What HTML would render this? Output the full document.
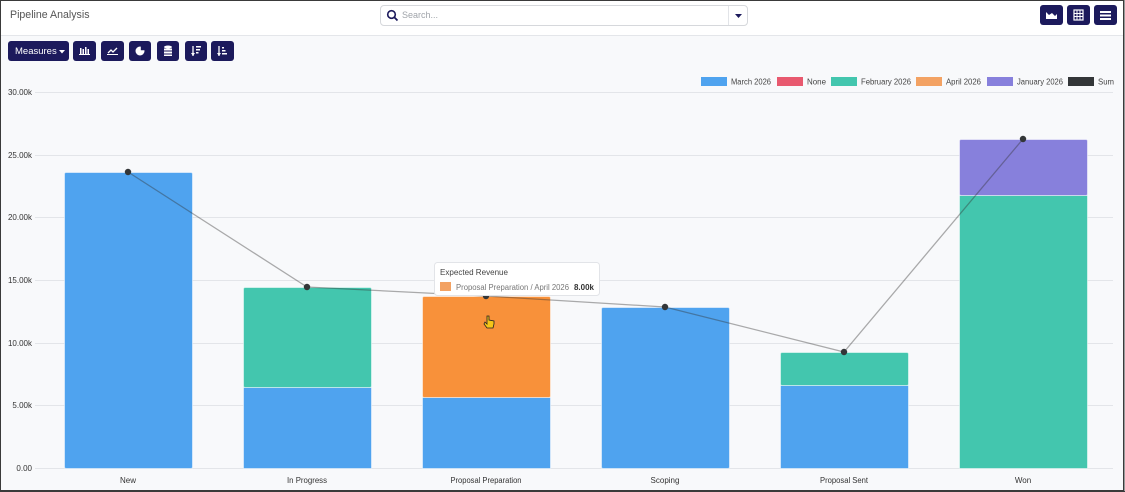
<!DOCTYPE html>
<html><head><meta charset="utf-8">
<style>
html,body{margin:0;padding:0;}
body{width:1125px;height:492px;overflow:hidden;background:#f8f9fb;font-family:"Liberation Sans",Arial,sans-serif;position:relative;}
.header{position:absolute;left:1px;top:1px;width:1122px;height:34px;background:#fff;border-bottom:1px solid #e4e6ea;}
.title{position:absolute;left:9px;top:8px;font-size:10.6px;color:#555;}
.search{position:absolute;left:380px;top:5px;width:366px;height:19px;border:1px solid #d6d8dc;border-radius:4px;background:#fff;}
.search .ph{position:absolute;left:21px;top:4px;font-size:9px;color:#a0a4aa;}
.search .div{position:absolute;left:347px;top:0;width:1px;height:19px;background:#e2e4e8;}
.btn{position:absolute;background:#1c1a5c;border-radius:3px;height:20px;}
.meas{color:#fff;font-size:9.5px;}
</style></head><body>
<div class="header">
  <div class="title">Pipeline Analysis</div>
</div>
<div class="search">
  <svg width="14" height="14" style="position:absolute;left:5px;top:3px" viewBox="0 0 14 14"><circle cx="5.5" cy="5.5" r="3.8" fill="none" stroke="#1c1a5c" stroke-width="1.6"/><line x1="8.3" y1="8.3" x2="11.5" y2="11.5" stroke="#1c1a5c" stroke-width="1.8"/></svg>
  <div class="ph">Search...</div>
  <div class="div"></div>
  <svg width="8" height="5" style="position:absolute;left:354px;top:8px"><polygon points="0,0 7,0 3.5,4" fill="#1c1a5c"/></svg>
</div>
<!-- right buttons -->
<div class="btn" style="left:1040px;top:5px;width:23px;">
  <svg width="23" height="20"><polygon points="6,14 6,7 9,10 12,8 15,11 17,9 17,14" fill="#fff"/></svg></div>
<div class="btn" style="left:1067px;top:5px;width:23px;">
  <svg width="23" height="20"><rect x="7" y="5" width="9" height="10" fill="none" stroke="#fff" stroke-width="1.2"/><line x1="7" y1="8.5" x2="16" y2="8.5" stroke="#fff"/><line x1="7" y1="11.5" x2="16" y2="11.5" stroke="#fff"/><line x1="10" y1="5" x2="10" y2="15" stroke="#fff"/><line x1="13" y1="5" x2="13" y2="15" stroke="#fff"/></svg></div>
<div class="btn" style="left:1094px;top:5px;width:23px;">
  <svg width="23" height="20"><rect x="6" y="6" width="11" height="2" fill="#fff"/><rect x="6" y="9.5" width="11" height="2" fill="#fff"/><rect x="6" y="13" width="11" height="2" fill="#fff"/></svg></div>
<!-- toolbar -->
<div class="btn meas" style="left:8px;top:41px;width:61px;"><span style="position:absolute;left:7px;top:5px;">Measures</span>
  <svg width="8" height="5" style="position:absolute;left:51px;top:9px"><polygon points="0,0 6,0 3,3.5" fill="#fff"/></svg></div>
<div class="btn" style="left:73px;top:41px;width:23px;"><svg width="23" height="20"><rect x="7" y="7" width="1.5" height="6" fill="#fff"/><rect x="9.5" y="8" width="1.5" height="5" fill="#fff"/><rect x="12" y="6" width="1.5" height="7" fill="#fff"/><rect x="14.5" y="8" width="1.5" height="5" fill="#fff"/><rect x="6" y="13" width="11" height="1" fill="#fff"/></svg></div>
<div class="btn" style="left:101px;top:41px;width:23px;"><svg width="23" height="20"><polyline points="7,12 10,9 12,11 16,7" fill="none" stroke="#fff" stroke-width="1.3"/><rect x="6" y="13" width="11" height="1" fill="#fff"/></svg></div>
<div class="btn" style="left:129px;top:41px;width:22px;"><svg width="22" height="20"><circle cx="11" cy="10" r="4.5" fill="#fff"/><path d="M11,10 L11,5.5 A4.5,4.5 0 0 1 15.5,10 Z" fill="#1c1a5c" transform="translate(0.8,-0.8)"/></svg></div>
<div class="btn" style="left:157px;top:41px;width:22px;"><svg width="22" height="20"><ellipse cx="11" cy="6" rx="4" ry="1.5" fill="#fff"/><rect x="7" y="7.5" width="8" height="2" fill="#fff"/><rect x="7" y="10.5" width="8" height="2" fill="#fff"/><rect x="7" y="13.5" width="8" height="1.5" fill="#fff"/></svg></div>
<div class="btn" style="left:185px;top:41px;width:22px;"><svg width="22" height="20"><line x1="8" y1="5" x2="8" y2="15" stroke="#fff" stroke-width="1.3"/><polygon points="6,12 10,12 8,15" fill="#fff"/><rect x="11" y="5" width="5" height="1.5" fill="#fff"/><rect x="11" y="8" width="4" height="1.5" fill="#fff"/><rect x="11" y="11" width="2.5" height="1.5" fill="#fff"/></svg></div>
<div class="btn" style="left:211px;top:41px;width:23px;"><svg width="23" height="20"><line x1="8" y1="5" x2="8" y2="15" stroke="#fff" stroke-width="1.3"/><polygon points="6,12 10,12 8,15" fill="#fff"/><rect x="11" y="6" width="2" height="1.5" fill="#fff"/><rect x="11" y="9" width="3.5" height="1.5" fill="#fff"/><rect x="11" y="12" width="5" height="1.5" fill="#fff"/></svg></div>

<svg width="1125" height="492" style="position:absolute;left:0;top:0" font-family="Liberation Sans, Arial, sans-serif">
  <!-- legend -->
  <g font-size="8" fill="#444">
    <rect x="701" y="77" width="26" height="9" fill="#4fa3ef"/><text x="731" y="84.5" textLength="40" lengthAdjust="spacingAndGlyphs">March 2026</text>
    <rect x="777" y="77" width="26" height="9" fill="#e8596f"/><text x="807" y="84.5" textLength="19" lengthAdjust="spacingAndGlyphs">None</text>
    <rect x="831" y="77" width="26" height="9" fill="#43c6ae"/><text x="861" y="84.5" textLength="50" lengthAdjust="spacingAndGlyphs">February 2026</text>
    <rect x="916" y="77" width="26" height="9" fill="#f3a263"/><text x="946" y="84.5" textLength="35" lengthAdjust="spacingAndGlyphs">April 2026</text>
    <rect x="987" y="77" width="26" height="9" fill="#8780dc"/><text x="1017" y="84.5" textLength="46" lengthAdjust="spacingAndGlyphs">January 2026</text>
    <rect x="1068" y="77" width="26" height="9" fill="#333638"/><text x="1098" y="84.5" textLength="16" lengthAdjust="spacingAndGlyphs">Sum</text>
  </g>
  <!-- gridlines -->
  <g stroke="#e3e5e9" stroke-width="1">
    <line x1="35" y1="92.5" x2="1113" y2="92.5"/>
    <line x1="35" y1="155.5" x2="1113" y2="155.5"/>
    <line x1="35" y1="217.5" x2="1113" y2="217.5"/>
    <line x1="35" y1="280.5" x2="1113" y2="280.5"/>
    <line x1="35" y1="343.5" x2="1113" y2="343.5"/>
    <line x1="35" y1="405.5" x2="1113" y2="405.5"/>
    <line x1="35" y1="468.5" x2="1113" y2="468.5"/>
  </g>
  <g font-size="8" fill="#333" text-anchor="end">
    <text x="32" y="95">30.00k</text>
    <text x="32" y="158">25.00k</text>
    <text x="32" y="220">20.00k</text>
    <text x="32" y="283">15.00k</text>
    <text x="32" y="346">10.00k</text>
    <text x="32" y="408">5.00k</text>
    <text x="32" y="471">0.00</text>
  </g>
  <!-- bars -->
  <g stroke="#fff" stroke-opacity="0.5" stroke-width="1">
    <rect x="64.5" y="172.5" width="128" height="296" fill="#4fa3ef" rx="1.5"/>
    <rect x="243.5" y="387.5" width="128" height="81" fill="#4fa3ef"/>
    <rect x="243.5" y="287.5" width="128" height="100" fill="#43c6ae" rx="1.5"/>
    <rect x="422.5" y="397.5" width="128" height="71" fill="#4fa3ef"/>
    <rect x="422.5" y="296.5" width="128" height="101" fill="#f8913a" rx="1.5"/>
    <rect x="601.5" y="307.5" width="128" height="161" fill="#4fa3ef" rx="1.5"/>
    <rect x="780.5" y="385.5" width="128" height="83" fill="#4fa3ef"/>
    <rect x="780.5" y="352.5" width="128" height="33" fill="#43c6ae" rx="1.5"/>
    <rect x="959.5" y="195.5" width="128" height="273" fill="#43c6ae"/>
    <rect x="959.5" y="139.5" width="128" height="56" fill="#8780dc" rx="1.5"/>
  </g>
  <!-- sum line -->
  <polyline points="128,172 307,287 486,296 665,307 844,352 1023,139" fill="none" stroke="#333" stroke-opacity="0.4" stroke-width="1.3"/>
  <g fill="#333638">
    <circle cx="128" cy="172" r="3.2"/>
    <circle cx="307" cy="287" r="3.2"/>
    <circle cx="486" cy="296" r="3.2"/>
    <circle cx="665" cy="307" r="3.2"/>
    <circle cx="844" cy="352" r="3.2"/>
    <circle cx="1023" cy="139" r="3.2"/>
  </g>
  <!-- x labels -->
  <g font-size="8" fill="#333" text-anchor="middle">
    <text x="128" y="483">New</text>
    <text x="307" y="483" textLength="40" lengthAdjust="spacingAndGlyphs">In Progress</text>
    <text x="486" y="483" textLength="71" lengthAdjust="spacingAndGlyphs">Proposal Preparation</text>
    <text x="665" y="483">Scoping</text>
    <text x="844" y="483" textLength="48" lengthAdjust="spacingAndGlyphs">Proposal Sent</text>
    <text x="1023" y="483">Won</text>
  </g>
  <!-- tooltip -->
  <rect x="434.5" y="262.5" width="165" height="33" rx="3" fill="#fff" stroke="#e2e4e8"/>
  <text x="440" y="275" font-size="8" fill="#444" textLength="68" lengthAdjust="spacingAndGlyphs">Expected Revenue</text>
  <rect x="440" y="282" width="11" height="9" fill="#f3a263"/>
  <text x="456" y="290" font-size="8" fill="#777" textLength="113" lengthAdjust="spacingAndGlyphs">Proposal Preparation / April 2026</text>
  <text x="594" y="290" font-size="8" fill="#333" font-weight="bold" text-anchor="end">8.00k</text>
  <!-- cursor -->
  <path d="M487,316 L487,324 L485,322 L484,324 L487,328 L493,328 L494,324 L494,321 L489,320 L489,316 Z" fill="#f5c518" stroke="#222" stroke-width="0.8"/>
  <!-- frame -->
  <rect x="0.5" y="0.5" width="1123" height="490" fill="none" stroke="#3a3a3a" stroke-width="1"/>
  <line x1="1124" y1="0" x2="1124" y2="492" stroke="#3a3a3a" stroke-width="1"/>
  <line x1="0" y1="491.5" x2="1125" y2="491.5" stroke="#3a3a3a" stroke-width="1"/>
</svg>
</body></html>
